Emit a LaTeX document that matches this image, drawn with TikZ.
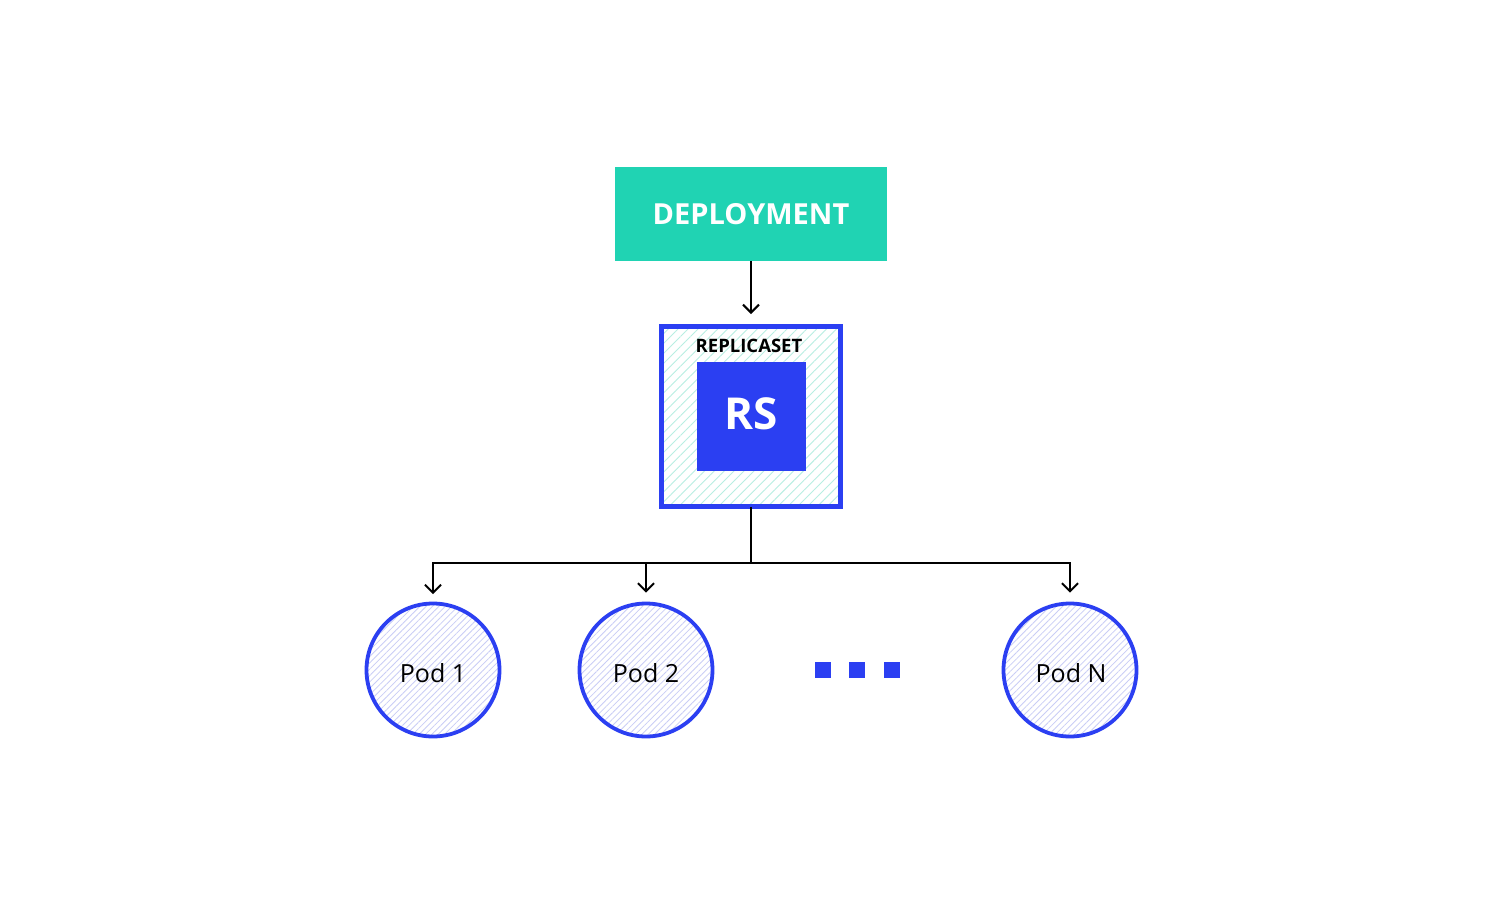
\documentclass[tikz,border=0pt]{standalone}
\usepackage{fontspec}
\setmainfont{Open Sans}
\usetikzlibrary{arrows.meta,patterns.meta}
\definecolor{deploy}{HTML}{20D3B3}
\definecolor{kblue}{HTML}{2B3FF2}
\definecolor{tealhatch}{HTML}{B8EEE2}
\definecolor{bluehatch}{HTML}{C9CDF6}
\tikzset{
  arr/.style={draw=black, line width=2pt, -{Straight Barb[length=8pt,width=16pt,line width=2pt]}},
  conn/.style={draw=black, line width=2pt},
  podnode/.style={circle, draw=kblue, line width=3.8pt, minimum size=133pt, inner sep=0pt,
    pattern={Lines[angle=45,distance=4.5pt,line width=0.8pt]}, pattern color=bluehatch},
  podtext/.style={font=\fontsize{25}{29}\selectfont, inner sep=0pt},
  dotbox/.style={rectangle, fill=kblue, minimum size=16pt, inner sep=0pt}
}
\begin{document}
\begin{tikzpicture}[x=1pt,y=-1pt]
\useasboundingbox[fill=white] (0,0) rectangle (1501,918);

\node[rectangle, fill=deploy, minimum width=272pt, minimum height=94pt, inner sep=0pt,
  text=white, font=\fontsize{29}{34}\selectfont\bfseries] (dep) at (751,214) {DEPLOYMENT};

\node[rectangle, draw=kblue, line width=5pt, minimum width=179pt, minimum height=180pt, inner sep=0pt,
  pattern={Lines[angle=45,distance=7pt,line width=0.9pt]}, pattern color=tealhatch] (rep) at (751,416.5) {};
\node[font=\fontsize{18.5}{22}\selectfont\bfseries, inner sep=0pt] (replabel) at (749,346) {REPLICASET};
\node[rectangle, fill=kblue, minimum size=109pt, inner sep=0pt] (rs) at (751.5,416.5) {};
\node[text=white, font=\fontsize{44}{50}\selectfont\bfseries, inner sep=0pt] (rstext) at (751.5,414) {RS};

\node[podnode] (pod1) at (433,670) {};
\node[podnode] (pod2) at (646,670) {};
\node[podnode] (podn) at (1070,670) {};
\node[podtext] (t1) at (433,673) {Pod 1};
\node[podtext] (t2) at (646,673) {Pod 2};
\node[podtext] (tn) at (1071,673) {Pod N};

\node[dotbox] (d1) at (823,670) {};
\node[dotbox] (d2) at (857,670) {};
\node[dotbox] (d3) at (892,670) {};

\coordinate (junc) at (751,563);
\draw[arr, shorten >=12pt] (dep.south) -- (rep.north);
\draw[conn] (rep.south) -- (junc);
\draw[arr, shorten >=9pt] (junc) -| (pod1.north);
\draw[arr, shorten >=9pt] (junc) -| (podn.north);
\draw[arr, shorten >=9pt] (pod2.north |- junc) -- (pod2.north);
\end{tikzpicture}
\end{document}
